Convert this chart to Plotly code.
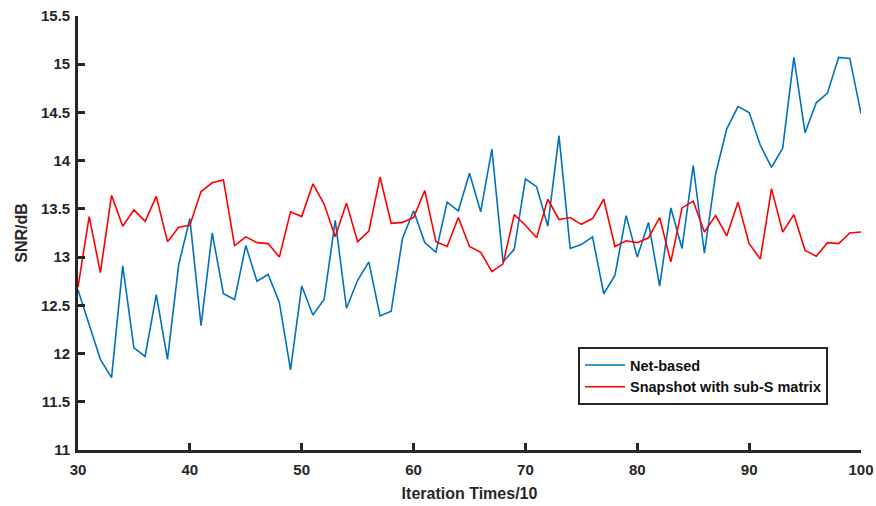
import plotly.graph_objects as go

iterations = list(range(30, 101))

net_based = [12.66, 12.29, 11.94, 11.75, 12.91, 12.06, 11.97, 12.61, 11.94, 12.92,
             13.40, 12.29, 13.25, 12.62, 12.56, 13.12, 12.75, 12.82, 12.53, 11.83,
             12.70, 12.40, 12.56, 13.38, 12.47, 12.76, 12.95, 12.39, 12.44, 13.19,
             13.48, 13.15, 13.05, 13.57, 13.48, 13.87, 13.47, 14.12, 12.95, 13.08,
             13.81, 13.73, 13.32, 14.26, 13.09, 13.13, 13.21, 12.62, 12.81, 13.43,
             13.00, 13.36, 12.70, 13.51, 13.09, 13.95, 13.04, 13.86, 14.33, 14.56,
             14.50, 14.16, 13.93, 14.13, 15.07, 14.29, 14.60, 14.70, 15.07, 15.06,
             14.49]

snapshot = [12.69, 13.42, 12.84, 13.64, 13.32, 13.49, 13.37, 13.63, 13.16, 13.31,
            13.33, 13.68, 13.77, 13.80, 13.12, 13.21, 13.15, 13.14, 13.00, 13.47,
            13.42, 13.76, 13.55, 13.21, 13.56, 13.16, 13.27, 13.83, 13.35, 13.36,
            13.41, 13.69, 13.16, 13.11, 13.41, 13.11, 13.05, 12.85, 12.93, 13.44,
            13.33, 13.20, 13.60, 13.39, 13.41, 13.34, 13.40, 13.60, 13.11, 13.17,
            13.15, 13.20, 13.41, 12.95, 13.51, 13.58, 13.26, 13.43, 13.22, 13.57,
            13.14, 12.98, 13.71, 13.26, 13.44, 13.07, 13.01, 13.15, 13.14, 13.25,
            13.26]

series_names = ["Net-based", "Snapshot with sub-S matrix"]
series_colors = ["#0072BD", "#FF0000"]

x_ticks = [30, 40, 50, 60, 70, 80, 90, 100]
y_ticks = [11, 11.5, 12, 12.5, 13, 13.5, 14, 14.5, 15, 15.5]

FAM = "Arial, Liberation Sans, sans-serif"

fig = go.Figure()
for name, vals, col in zip(series_names, [net_based, snapshot], series_colors):
    fig.add_trace(go.Scatter(x=iterations, y=vals, mode="lines", name=name,
                             line=dict(color=col, width=1.6)))

axis_font = dict(family=FAM, size=15, color="#262626", weight="bold")
title_font = dict(family=FAM, size=16, color="#262626", weight="bold")

fig.update_layout(
    width=876, height=506,
    margin=dict(l=78, r=15, t=16, b=56),
    paper_bgcolor="white", plot_bgcolor="white",
    font=dict(family=FAM, color="#262626"),
    showlegend=True,
    legend=dict(x=0.6386, y=0.2373, xanchor="left", yanchor="top",
                bgcolor="white", bordercolor="#262626", borderwidth=2,
                font=dict(family=FAM, size=14.5, color="#111111", weight="bold"),
                tracegroupgap=0, itemwidth=40),
)
common = dict(showgrid=False, zeroline=False, showline=True, linecolor="#262626",
              linewidth=2.6, ticks="inside", ticklen=7, tickwidth=2.6,
              tickcolor="#262626", tickfont=axis_font, automargin=False)
fig.update_xaxes(range=[30, 100], tickvals=x_ticks, ticktext=[str(v) for v in x_ticks],
                 ticklabelstandoff=4,
                 title=dict(text="Iteration Times/10", font=title_font, standoff=12),
                 **common)
fig.update_yaxes(range=[11, 15.5], tickvals=y_ticks, ticktext=[f"{v:g}" for v in y_ticks],
                 ticklabelstandoff=2,
                 title=dict(text="SNR/dB", font=title_font, standoff=10),
                 **common)

fig.write_html("out.html", config={"displayModeBar": False},
               post_script="document.body.style.margin='0';document.body.style.padding='0';")
